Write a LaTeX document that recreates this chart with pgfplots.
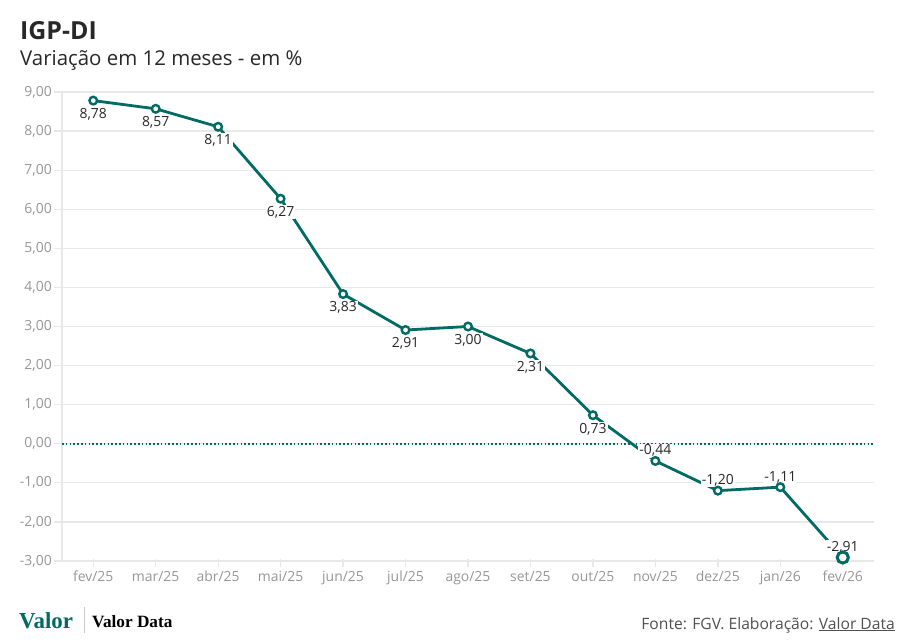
\documentclass[border=0pt]{standalone}
\usepackage{fontspec}
\setmainfont{Open Sans}
\newfontfamily\logofont{Liberation Serif}
\usepackage{pgfplots}
\pgfplotsset{compat=1.18}
\usepackage{pgfplotstable}
\definecolor{teal1}{RGB}{0,107,99}
\definecolor{gridc}{RGB}{232,232,232}
\definecolor{tickc}{RGB}{150,150,150}
\definecolor{labc}{RGB}{40,40,40}
\definecolor{footc}{RGB}{80,80,80}

\pgfplotstableread{
x y lab
0 8.78 8,78
1 8.57 8,57
2 8.11 8,11
3 6.27 6,27
4 3.83 3,83
5 2.91 2,91
6 3.00 3,00
7 2.31 2,31
8 0.73 0,73
9 -0.44 -0,44
10 -1.20 -1,20
11 -1.11 -1,11
12 -2.91 -2,91
}\datall

\pgfplotstableread{
x y lab
0 8.78 8,78
1 8.57 8,57
2 8.11 8,11
3 6.27 6,27
4 3.83 3,83
5 2.91 2,91
6 3.00 3,00
7 2.31 2,31
8 0.73 0,73
}\datbelow

\pgfplotstableread{
x y lab
9 -0.44 -0,44
10 -1.20 -1,20
11 -1.11 -1,11
12 -2.91 -2,91
}\databove

\pgfplotstableread{
x y
0 8.78
1 8.57
2 8.11
3 6.27
4 3.83
5 2.91
6 3.00
7 2.31
8 0.73
9 -0.44
10 -1.20
11 -1.11
}\datmarks

\pgfplotstableread{
x y
12 -2.91
}\datlast

\begin{document}
\begin{tikzpicture}
\useasboundingbox (0,0) rectangle (910bp,-641bp);
\node[anchor=base west, inner sep=0pt, text=labc, font=\fontsize{25}{25}\selectfont\bfseries] at (20bp,-39bp) {IGP-DI};
\node[anchor=base west, inner sep=0pt, text=labc, font=\fontsize{20.5}{20.5}\selectfont] at (20bp,-65bp) {Variação em 12 meses - em \%};
\begin{axis}[
  at={(62bp,-561bp)}, anchor=south west,
  scale only axis, width=812bp, height=469bp,
  xmin=-0.5, xmax=12.5, ymin=-3, ymax=9,
  ytick={-3,-2,...,9},
  xtick={0,...,12},
  xticklabels={fev/25,mar/25,abr/25,mai/25,jun/25,jul/25,ago/25,set/25,out/25,nov/25,dez/25,jan/26,fev/26},
  axis lines*=left,
  axis line style={gridc, line width=1.3bp},
  tick align=outside,
  major tick length=8bp,
  tick style={gridc, line width=1.3bp},
  xtick style={yshift=2bp},
  ymajorgrids,
  grid style={gridc, line width=1.3bp},
  yticklabel style={text=tickc, font=\fontsize{14}{14}\selectfont, inner sep=2bp},
  xticklabel style={text=tickc, font=\fontsize{14}{14}\selectfont, inner sep=2bp},
  /pgf/number format/.cd, fixed, fixed zerofill, precision=2, use comma, assume math mode=true,
  /pgfplots/.cd,
  clip=false,
]
\addplot[teal1, line width=1.6bp, dash pattern=on 1.6bp off 2.2bp, forget plot] coordinates {(-0.5,0) (12.5,0)};
\addplot[teal1, line width=2.8bp, mark=none, line join=round] table[x=x,y=y]{\datall};
\addplot[draw=none, mark=none, nodes near coords, point meta=explicit symbolic,
  nodes near coords style={anchor=north, yshift=-6.5bp, fill=white, inner sep=1bp, text=labc, font=\fontsize{14}{14}\selectfont}]
  table[x=x,y=y,meta=lab]{\datbelow};
\addplot[draw=none, mark=none, nodes near coords, point meta=explicit symbolic,
  nodes near coords style={anchor=south, yshift=3bp, fill=white, inner sep=1bp, text=labc, font=\fontsize{14}{14}\selectfont}]
  table[x=x,y=y,meta=lab]{\databove};
\addplot[only marks, mark=*, mark size=3.8bp, mark options={fill=white, draw=teal1, line width=2.4bp}] table[x=x,y=y]{\datmarks};
\addplot[only marks, mark=*, mark size=5.6bp, mark options={fill=white, draw=teal1, line width=3bp}] table[x=x,y=y]{\datlast};
\end{axis}
\node[anchor=base west, inner sep=0pt, text=teal1, font=\logofont\bfseries\fontsize{23}{23}\selectfont] at (19bp,-628bp) {Valor};
\draw[gridc!70!gray, line width=0.8bp] (84bp,-607bp) -- (84bp,-633bp);
\node[anchor=base west, inner sep=0pt, text=black, font=\logofont\bfseries\fontsize{17.3}{17.3}\selectfont] at (92bp,-627bp) {Valor Data};
\node[anchor=base east, inner sep=0pt, text=footc, font=\fontsize{15.7}{15.7}\selectfont] at (895bp,-629bp) {Fonte: FGV. Elaboração: \underline{Valor Data}};
\end{tikzpicture}
\end{document}
